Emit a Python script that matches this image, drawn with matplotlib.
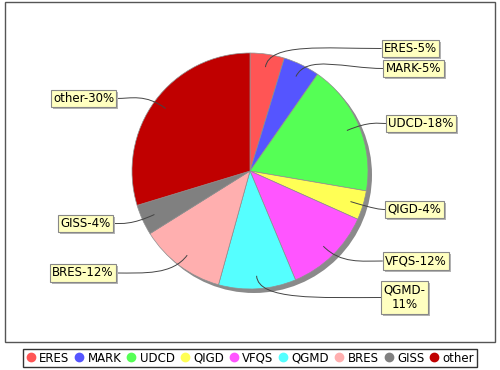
import numpy as np
import matplotlib
matplotlib.use('Agg')
import matplotlib.pyplot as plt
from matplotlib.path import Path
from matplotlib.patches import PathPatch, Rectangle, Circle
from matplotlib.lines import Line2D

# data
names = ['ERES', 'MARK', 'UDCD', 'QIGD', 'VFQS', 'QGMD', 'BRES', 'GISS', 'other']
values = [4.7, 5.0, 18.0, 4.0, 12.0, 10.6, 11.8, 4.2, 29.7]
colors = ['#FF5555', '#5555FF', '#55FF55', '#FFFF55', '#FF55FF',
          '#55FFFF', '#FFAFAF', '#808080', '#C00000']
label_text = ['ERES-5%', 'MARK-5%', 'UDCD-18%', 'QIGD-4%', 'VFQS-12%',
              'QGMD-\n11%', 'BRES-12%', 'GISS-4%', 'other-30%']
# label box centres (pixels, y from top)
label_pos = [(410.5, 48.5), (413.5, 68.5), (421, 123.5), (414.5, 209.5),
             (416, 261), (404.5, 297.5), (83, 273), (85.5, 223.5), (83.5, 98.5)]

H = 370
fig = plt.figure(figsize=(5, 3.7), dpi=100)
ax = fig.add_axes([0, 0, 1, 1])

cx, cy, R = 250, H - 171, 118

# shadow
ax.add_patch(Circle((cx + 4, cy - 4), R, fc='#8a8a8a', ec='none', zorder=1))
wedges, _ = ax.pie(values, colors=colors, center=(cx, cy), radius=R,
                   startangle=90, counterclock=False,
                   wedgeprops=dict(edgecolor='#909090', linewidth=0.5))
for w in wedges:
    w.set_zorder(2)

ax.set_xlim(0, 500)
ax.set_ylim(0, H)
ax.set_aspect('auto')
ax.axis('off')

total = sum(values)
cum = np.cumsum([0] + values) / total
for i, (txt, (lx, ly)) in enumerate(zip(label_text, label_pos)):
    ly = H - ly
    mid = 90 - 360 * (cum[i] + cum[i + 1]) / 2
    a = np.radians(mid)
    inner = (cx + 0.89 * R * np.cos(a), cy + 0.89 * R * np.sin(a))
    outer = (cx + 1.1 * R * np.cos(a), cy + 1.1 * R * np.sin(a))
    t = ax.text(lx, ly, txt, ha='center', va='center', fontsize=8.5,
                multialignment='center', zorder=6,
                bbox=dict(boxstyle='square,pad=0.2', fc='#FFFFC0', ec='#888888', lw=0.8))
    fig.canvas.draw()
    bb = t.get_bbox_patch().get_window_extent().transformed(ax.transData.inverted())
    ax.add_patch(Rectangle((bb.x0 + 2, bb.y0 - 2), bb.width, bb.height,
                           fc='#b4b4b4', ec='none', zorder=5))
    ex = bb.x0 if lx > cx else bb.x1
    verts = [(ex, ly), ((ex + outer[0]) / 2, ly), outer, inner]
    p = Path(verts, [Path.MOVETO, Path.CURVE4, Path.CURVE4, Path.CURVE4])
    ax.add_patch(PathPatch(p, fc='none', ec='#444444', lw=0.7, zorder=4))

# outer frame
fig.patches.append(Rectangle((5 / 500, (H - 342) / H), 490 / 500, 340 / H,
                             transform=fig.transFigure, fill=False,
                             ec='#555555', lw=1))

handles = [Line2D([], [], marker='o', ls='none', color=c, markersize=6) for c in colors]
fig.legend(handles, names, loc='center', bbox_to_anchor=(0.5, 1 - 358 / H), ncol=9,
           fontsize=8.5, frameon=True, fancybox=False, edgecolor='black',
           handlelength=0.8, handletextpad=0.3, columnspacing=0.45, borderpad=0.25,
           borderaxespad=0)

fig.savefig('out.png', dpi=100)
